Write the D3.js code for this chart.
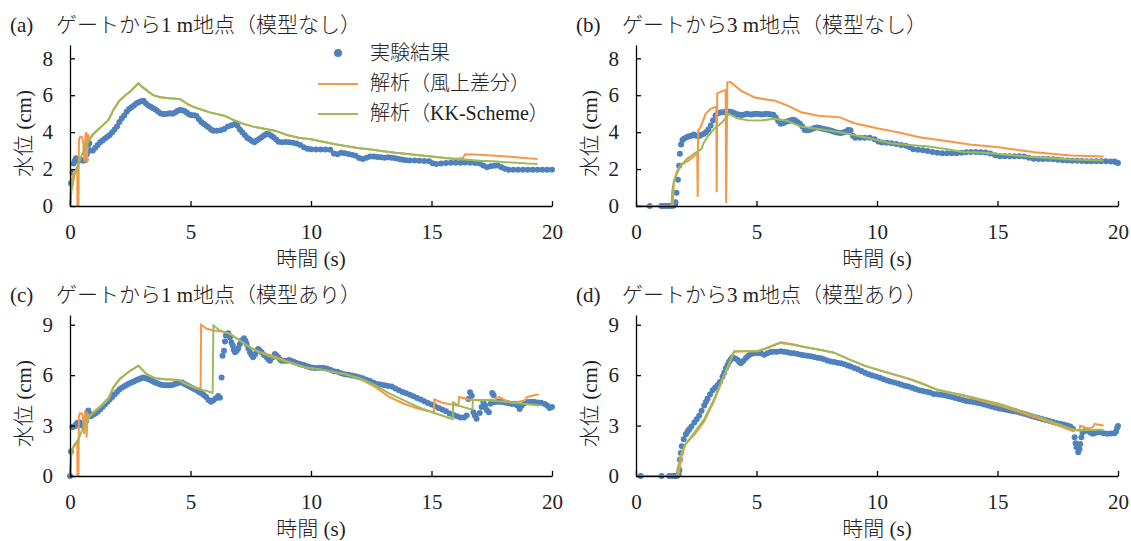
<!DOCTYPE html>
<html>
<head>
<meta charset="utf-8">
<script src="https://cdn.jsdelivr.net/npm/d3@7"></script>
<style>
  body { margin: 0; background: #fff; }
  text { font-family: "Liberation Serif", "Times New Roman", "Noto Sans CJK JP", serif; fill: #222; }
</style>
</head>
<body>
<div id="chart"></div>
<script>
// 目盛り
const xTicks = [0, 5, 10, 15, 20];
const yTicksAB = [0, 2, 4, 6, 8];
const yTicksCD = [0, 3, 6, 9];

const seriesNames = ['実験結果', '解析（風上差分）', '解析（KK-Scheme）'];
const titles = [
  ['(a)', 'ゲートから1 m地点（模型なし）'],
  ['(b)', 'ゲートから3 m地点（模型なし）'],
  ['(c)', 'ゲートから1 m地点（模型あり）'],
  ['(d)', 'ゲートから3 m地点（模型あり）']
];

// (a) 1 m, 模型なし  [時間 s, 水位 cm]
const expA = [[0.04,1.23],[0.1,1.8],[0.15,2.3],[0.2,2.45],[0.25,2.58],[0.35,2.45],[0.45,2.5],[0.55,2.45],[0.65,2.5],[0.7,2.8],[0.75,3.3],[0.8,3.4],[0.85,3.0],[0.95,3.0],[1.05,3.15],[1.15,3.3],[1.25,3.45],[1.35,3.55],[1.45,3.65],[1.55,3.75],[1.65,3.85],[1.75,4.0],[1.85,4.15],[1.95,4.3],[2.05,4.55],[2.15,4.75],[2.25,4.9],[2.35,5.1],[2.45,5.25],[2.55,5.35],[2.65,5.45],[2.75,5.55],[2.85,5.62],[2.95,5.68],[3.05,5.7],[3.15,5.55],[3.25,5.45],[3.35,5.38],[3.45,5.3],[3.55,5.22],[3.65,5.12],[3.75,5.02],[3.85,4.98],[3.95,4.98],[4.05,5.0],[4.15,5.02],[4.25,5.0],[4.35,5.05],[4.45,5.15],[4.55,5.2],[4.65,5.18],[4.75,5.15],[4.85,5.05],[4.95,4.95],[5.05,4.92],[5.15,4.92],[5.25,4.88],[5.35,4.7],[5.45,4.55],[5.55,4.45],[5.65,4.35],[5.75,4.26],[5.85,4.15],[5.95,4.08],[6.1,4.08],[6.25,4.1],[6.4,4.17],[6.55,4.3],[6.7,4.38],[6.85,4.44],[6.95,4.35],[7.05,4.15],[7.15,4.0],[7.25,3.85],[7.35,3.7],[7.45,3.62],[7.55,3.52],[7.65,3.45],[7.75,3.55],[7.85,3.63],[7.95,3.72],[8.05,3.82],[8.15,3.9],[8.25,3.88],[8.35,3.8],[8.45,3.72],[8.55,3.6],[8.65,3.48],[8.8,3.45],[8.95,3.46],[9.1,3.45],[9.25,3.42],[9.4,3.38],[9.55,3.3],[9.7,3.18],[9.85,3.1],[10.0,3.08],[10.2,3.06],[10.4,3.06],[10.6,3.06],[10.8,3.05],[10.95,2.85],[11.1,2.8],[11.25,2.88],[11.4,2.86],[11.55,2.82],[11.7,2.78],[11.85,2.72],[12.0,2.6],[12.15,2.55],[12.3,2.62],[12.45,2.68],[12.6,2.68],[12.75,2.66],[12.9,2.64],[13.05,2.62],[13.2,2.64],[13.35,2.62],[13.5,2.58],[13.65,2.54],[13.8,2.5],[13.95,2.48],[14.1,2.46],[14.3,2.46],[14.5,2.45],[14.7,2.44],[14.9,2.42],[15.05,2.32],[15.2,2.28],[15.4,2.3],[15.6,2.33],[15.8,2.34],[16.0,2.34],[16.2,2.34],[16.4,2.35],[16.6,2.34],[16.8,2.33],[17.0,2.3],[17.15,2.2],[17.3,2.1],[17.45,2.15],[17.6,2.18],[17.75,2.19],[17.9,2.1],[18.05,2.02],[18.2,1.97],[18.4,1.96],[18.6,1.96],[18.8,1.96],[19.0,1.96],[19.2,1.96],[19.4,1.96],[19.6,1.96],[19.8,1.96],[20.0,1.96]];
const upA = [[0,0],[0.05,1.3],[0.15,1.8],[0.3,2.1],[0.31,0],[0.35,0],[0.37,3.6],[0.42,3.75],[0.5,3.72],[0.55,3.4],[0.6,2.4],[0.64,3.8],[0.67,4.0],[0.7,2.35],[0.74,3.9],[0.78,3.5],[0.85,3.75],[1.0,3.95],[1.3,4.3],[1.6,4.66],[1.8,5.2],[2.05,5.7],[2.3,6.0],[2.5,6.2],[2.84,6.65],[3.0,6.45],[3.2,6.25],[3.45,6.0],[3.7,5.9],[4.0,5.85],[4.5,5.8],[4.6,5.76],[4.9,5.5],[5.2,5.33],[5.5,5.2],[5.8,5.07],[6.4,4.89],[6.8,4.65],[7.2,4.45],[7.6,4.3],[8.0,4.2],[8.5,4.08],[9.0,3.85],[9.5,3.7],[10.0,3.62],[10.5,3.48],[11.0,3.35],[11.5,3.24],[12.0,3.13],[12.5,3.06],[13.0,2.97],[13.5,2.88],[14.0,2.82],[14.5,2.75],[15.0,2.68],[15.5,2.62],[16.0,2.56],[16.3,2.6],[16.4,2.8],[17.0,2.78],[17.5,2.74],[18.0,2.7],[18.5,2.64],[19.0,2.58],[19.4,2.55]];
const kkA = [[0,0],[0.07,0.9],[0.2,1.75],[0.35,2.3],[0.5,2.8],[0.7,3.4],[1.0,3.93],[1.3,4.3],[1.6,4.66],[1.8,5.2],[2.05,5.7],[2.3,6.0],[2.5,6.2],[2.84,6.65],[3.0,6.45],[3.2,6.25],[3.45,6.0],[3.7,5.9],[4.0,5.85],[4.5,5.8],[4.6,5.76],[4.9,5.5],[5.2,5.33],[5.5,5.2],[5.8,5.07],[6.4,4.89],[6.8,4.65],[7.2,4.45],[7.6,4.3],[8.0,4.2],[8.5,4.08],[9.0,3.85],[9.5,3.7],[10.0,3.62],[10.5,3.48],[11.0,3.35],[11.5,3.24],[12.0,3.13],[12.5,3.06],[13.0,2.97],[13.5,2.88],[14.0,2.82],[14.5,2.75],[15.0,2.68],[15.5,2.6],[16.0,2.54],[16.5,2.5],[17.0,2.45],[17.5,2.42],[18.0,2.38],[18.5,2.34],[19.0,2.3],[19.4,2.28]];

// (b) 3 m, 模型なし
const expB = [[0.57,0],[1.05,0],[1.15,0],[1.25,0],[1.35,0],[1.45,0],[1.55,0.02],[1.62,0.1],[1.64,0.2],[1.68,0.72],[1.74,1.42],[1.79,2.18],[1.82,2.83],[1.87,3.33],[1.93,3.58],[2.0,3.65],[2.1,3.72],[2.2,3.78],[2.3,3.8],[2.4,3.87],[2.5,3.8],[2.6,3.78],[2.7,3.85],[2.8,3.9],[2.9,4.0],[3.0,4.15],[3.1,4.36],[3.2,4.65],[3.3,4.9],[3.4,5.02],[3.5,5.06],[3.6,5.08],[3.7,5.1],[3.8,5.12],[3.9,5.1],[4.0,5.08],[4.1,5.02],[4.2,4.97],[4.3,4.94],[4.4,4.93],[4.5,4.96],[4.6,4.99],[4.7,4.97],[4.8,4.96],[4.9,4.98],[5.0,5.0],[5.1,4.98],[5.2,4.96],[5.3,4.97],[5.4,4.99],[5.5,4.98],[5.6,4.96],[5.7,4.94],[5.8,4.8],[5.9,4.6],[6.0,4.45],[6.1,4.48],[6.2,4.55],[6.3,4.59],[6.4,4.63],[6.5,4.67],[6.6,4.65],[6.7,4.55],[6.8,4.45],[6.9,4.3],[7.0,4.12],[7.1,4.1],[7.2,4.12],[7.3,4.17],[7.4,4.22],[7.5,4.25],[7.6,4.24],[7.7,4.2],[7.8,4.17],[7.9,4.15],[8.0,4.12],[8.1,4.08],[8.2,4.03],[8.3,3.99],[8.4,3.97],[8.5,3.96],[8.6,3.98],[8.7,4.02],[8.8,4.12],[8.9,4.1],[9.0,3.8],[9.1,3.7],[9.3,3.69],[9.5,3.7],[9.7,3.69],[9.9,3.62],[10.05,3.5],[10.2,3.44],[10.4,3.42],[10.6,3.4],[10.8,3.36],[11.0,3.3],[11.2,3.26],[11.35,3.2],[11.5,3.08],[11.7,3.05],[11.9,3.02],[12.1,2.98],[12.3,2.93],[12.5,2.88],[12.7,2.86],[12.9,2.86],[13.1,2.86],[13.3,2.86],[13.5,2.88],[13.7,2.91],[13.9,2.92],[14.1,2.92],[14.3,2.91],[14.5,2.9],[14.7,2.85],[14.9,2.75],[15.1,2.7],[15.3,2.7],[15.5,2.7],[15.7,2.7],[15.9,2.7],[16.1,2.68],[16.3,2.62],[16.5,2.56],[16.7,2.55],[16.9,2.54],[17.1,2.54],[17.3,2.53],[17.5,2.5],[17.7,2.48],[17.9,2.46],[18.1,2.45],[18.3,2.45],[18.5,2.44],[18.7,2.43],[18.9,2.43],[19.1,2.42],[19.3,2.42],[19.5,2.42],[19.7,2.41],[19.85,2.41],[19.95,2.36],[20.0,2.33]];
const upB = [[0,0],[1.53,0],[1.57,1.3],[1.7,1.9],[1.85,2.2],[2.19,2.47],[2.54,2.83],[2.56,0.5],[2.58,4.1],[2.68,4.27],[2.89,4.99],[3.1,5.26],[3.33,5.39],[3.35,0.75],[3.37,6.1],[3.58,6.22],[3.72,6.29],[3.74,0.15],[3.79,6.7],[3.93,6.7],[4.35,6.25],[4.9,5.89],[5.46,5.75],[5.74,5.71],[6.29,5.44],[6.85,5.08],[7.57,4.89],[8.46,4.8],[9.06,4.48],[10.0,4.21],[10.86,3.99],[11.76,3.72],[12.8,3.54],[13.86,3.33],[15.06,3.18],[16.55,2.91],[18.05,2.73],[19.4,2.68]];
const kkB = [[0,0],[1.47,0],[1.5,0.76],[1.57,1.3],[1.64,1.57],[1.85,2.2],[2.13,2.56],[2.4,2.83],[2.61,3.0],[2.72,3.1],[2.8,3.4],[2.96,3.73],[3.24,4.18],[3.58,4.54],[3.86,4.99],[4.05,4.85],[4.2,4.75],[4.63,4.65],[5.18,4.63],[5.74,4.72],[6.29,4.6],[6.85,4.3],[7.57,4.17],[8.46,3.99],[9.5,3.72],[10.56,3.4],[11.3,3.3],[12.06,3.24],[12.8,3.1],[13.56,2.93],[14.3,2.9],[15.06,2.82],[16.55,2.64],[18.05,2.52],[19.4,2.46]];

// (c) 1 m, 模型あり
const expC = [[0,0],[0.04,1.46],[0.1,2.92],[0.15,2.95],[0.2,2.96],[0.25,3.05],[0.3,3.16],[0.35,3.18],[0.4,3.2],[0.45,3.05],[0.5,3.0],[0.55,3.1],[0.6,3.16],[0.66,3.26],[0.72,3.66],[0.76,3.9],[0.8,3.7],[0.85,3.56],[0.9,3.6],[0.97,3.66],[1.05,3.72],[1.15,3.82],[1.25,3.95],[1.35,4.1],[1.45,4.25],[1.55,4.4],[1.65,4.55],[1.75,4.7],[1.85,4.85],[1.95,5.0],[2.05,5.14],[2.15,5.25],[2.25,5.34],[2.35,5.42],[2.45,5.5],[2.55,5.56],[2.65,5.62],[2.75,5.7],[2.85,5.76],[2.95,5.82],[3.05,5.86],[3.15,5.82],[3.25,5.76],[3.35,5.7],[3.45,5.62],[3.55,5.55],[3.65,5.5],[3.75,5.45],[3.85,5.42],[3.95,5.4],[4.05,5.4],[4.15,5.4],[4.25,5.42],[4.35,5.48],[4.45,5.52],[4.55,5.56],[4.65,5.56],[4.75,5.48],[4.85,5.4],[4.95,5.32],[5.05,5.25],[5.15,5.18],[5.25,5.1],[5.35,5.0],[5.45,4.92],[5.55,4.82],[5.65,4.7],[5.75,4.52],[5.85,4.42],[5.95,4.5],[6.05,4.62],[6.15,4.76],[6.22,4.66],[6.29,5.86],[6.33,7.16],[6.39,7.46],[6.43,8.0],[6.47,8.36],[6.52,8.45],[6.57,8.5],[6.64,8.26],[6.7,7.95],[6.75,7.76],[6.8,7.5],[6.85,7.36],[6.92,7.45],[6.98,7.6],[7.05,7.85],[7.12,8.06],[7.22,8.2],[7.28,8.05],[7.33,7.86],[7.4,7.6],[7.47,7.36],[7.53,7.2],[7.6,7.06],[7.68,7.25],[7.75,7.45],[7.81,7.56],[7.88,7.46],[7.95,7.36],[8.05,7.2],[8.16,7.06],[8.23,6.95],[8.3,6.86],[8.4,7.05],[8.5,7.26],[8.57,7.15],[8.64,7.06],[8.71,6.95],[8.78,6.86],[8.9,6.86],[9.0,6.86],[9.1,6.9],[9.2,6.85],[9.3,6.78],[9.4,6.72],[9.5,6.68],[9.6,6.64],[9.7,6.6],[9.8,6.55],[9.9,6.5],[10.0,6.46],[10.1,6.44],[10.2,6.42],[10.35,6.44],[10.5,6.44],[10.65,6.4],[10.8,6.32],[10.95,6.24],[11.1,6.2],[11.25,6.12],[11.4,6.06],[11.55,6.02],[11.7,5.98],[11.85,5.94],[12.0,5.88],[12.15,5.82],[12.3,5.72],[12.45,5.65],[12.6,5.55],[12.75,5.48],[12.9,5.44],[13.05,5.4],[13.2,5.36],[13.35,5.32],[13.5,5.2],[13.65,5.1],[13.8,5.0],[13.95,4.92],[14.1,4.84],[14.25,4.74],[14.4,4.64],[14.55,4.55],[14.7,4.45],[14.85,4.35],[15.0,4.25],[15.15,4.15],[15.3,4.05],[15.45,3.95],[15.6,3.85],[15.75,3.72],[15.9,3.64],[16.05,3.55],[16.2,3.48],[16.35,3.48],[16.46,3.6],[16.53,4.58],[16.6,4.98],[16.67,4.78],[16.74,3.8],[16.8,3.6],[16.87,3.41],[17.0,3.75],[17.08,4.1],[17.15,4.4],[17.22,4.2],[17.29,3.93],[17.38,3.8],[17.45,4.3],[17.52,4.94],[17.58,4.8],[17.63,4.4],[17.77,4.42],[17.9,4.4],[18.04,4.38],[18.18,4.33],[18.32,4.28],[18.45,4.3],[18.55,4.2],[18.66,3.98],[18.75,4.2],[18.87,4.34],[19.0,4.4],[19.15,4.42],[19.28,4.4],[19.42,4.38],[19.55,4.36],[19.7,4.28],[19.8,4.2],[19.9,4.05],[20.0,4.1]];
const upC = [[0,0],[0.05,1.3],[0.15,1.8],[0.3,2.1],[0.31,0],[0.35,0],[0.37,3.6],[0.42,3.75],[0.5,3.7],[0.55,3.3],[0.58,2.5],[0.62,3.9],[0.66,3.3],[0.69,2.3],[0.73,3.7],[0.8,3.55],[0.97,3.8],[1.38,4.3],[1.59,4.6],[1.8,5.3],[2.07,5.8],[2.49,6.25],[2.84,6.56],[3.18,6.06],[3.53,5.82],[3.94,5.76],[4.5,5.72],[4.84,5.46],[5.2,5.25],[5.42,5.2],[5.44,9.0],[5.67,8.76],[5.95,8.66],[6.22,8.62],[6.64,8.46],[7.05,8.06],[7.47,7.66],[7.88,7.36],[8.31,7.2],[9.06,6.8],[9.81,6.45],[10.56,6.3],[11.46,6.04],[12.06,5.75],[12.66,5.3],[13.26,4.7],[13.86,4.3],[14.46,4.0],[15.1,3.78],[15.12,4.56],[15.43,4.36],[16.05,4.2],[16.12,4.2],[16.14,4.7],[16.55,4.55],[17.0,4.5],[17.63,4.55],[17.8,4.7],[18.05,4.5],[18.35,4.35],[18.87,4.5],[18.95,4.68],[19.29,4.82],[19.45,4.85]];
const kkC = [[0,0],[0.07,1.56],[0.28,1.96],[0.48,2.66],[0.69,3.36],[0.97,3.76],[1.38,4.26],[1.59,4.56],[1.8,5.26],[2.07,5.76],[2.49,6.26],[2.84,6.56],[3.18,6.06],[3.53,5.82],[3.94,5.76],[4.5,5.72],[4.84,5.46],[5.26,5.2],[5.67,5.06],[5.92,4.95],[5.95,8.96],[6.22,8.66],[6.64,8.46],[7.05,8.06],[7.47,7.66],[7.88,7.36],[8.31,7.1],[9.06,6.75],[9.81,6.45],[10.56,6.3],[11.46,6.04],[12.06,5.8],[12.66,5.4],[13.26,4.9],[13.86,4.5],[14.46,4.1],[15.06,3.78],[15.8,3.42],[15.88,3.38],[15.9,4.38],[16.1,4.2],[16.55,4.0],[16.7,3.98],[16.72,4.54],[17.3,4.5],[18.05,4.42],[18.8,4.3],[19.48,4.2]];

// (d) 3 m, 模型あり
const expD = [[0.2,0],[1.06,0],[1.38,0],[1.52,0],[1.6,0],[1.66,0],[1.72,0.02],[1.77,0.1],[1.8,0.36],[1.82,0.97],[1.86,1.37],[1.9,1.77],[1.98,2.18],[2.07,2.48],[2.14,2.65],[2.21,2.78],[2.3,2.95],[2.42,3.19],[2.52,3.38],[2.62,3.59],[2.72,3.88],[2.83,4.19],[2.9,4.4],[2.97,4.6],[3.07,4.85],[3.18,5.1],[3.28,5.25],[3.38,5.4],[3.48,5.6],[3.59,5.91],[3.66,6.15],[3.73,6.41],[3.8,6.6],[3.87,6.81],[3.94,6.95],[4.0,7.06],[4.1,7.0],[4.21,6.92],[4.28,6.8],[4.35,6.71],[4.45,6.85],[4.56,7.02],[4.66,7.15],[4.77,7.26],[4.9,7.3],[5.04,7.32],[5.18,7.3],[5.32,7.22],[5.45,7.3],[5.59,7.38],[5.72,7.4],[5.86,7.4],[6.0,7.42],[6.14,7.4],[6.28,7.36],[6.42,7.32],[6.56,7.3],[6.7,7.26],[6.84,7.22],[6.98,7.18],[7.11,7.15],[7.25,7.12],[7.39,7.08],[7.53,7.04],[7.67,7.0],[7.8,6.94],[7.94,6.88],[8.08,6.81],[8.22,6.78],[8.36,6.74],[8.5,6.71],[8.64,6.65],[8.78,6.58],[8.91,6.51],[9.06,6.43],[9.2,6.35],[9.35,6.25],[9.5,6.15],[9.65,6.05],[9.8,5.98],[9.96,5.92],[10.12,5.85],[10.28,5.75],[10.42,5.68],[10.56,5.62],[10.72,5.56],[10.88,5.5],[11.02,5.43],[11.16,5.37],[11.31,5.32],[11.46,5.25],[11.6,5.18],[11.75,5.1],[11.9,5.06],[12.06,5.02],[12.2,4.97],[12.35,4.88],[12.5,4.86],[12.65,4.84],[12.8,4.8],[12.95,4.75],[13.1,4.7],[13.25,4.64],[13.4,4.58],[13.56,4.52],[13.7,4.47],[13.85,4.43],[14.0,4.4],[14.15,4.36],[14.3,4.32],[14.45,4.26],[14.6,4.2],[14.75,4.14],[14.9,4.08],[15.06,4.02],[15.2,3.98],[15.35,3.94],[15.5,3.9],[15.65,3.86],[15.8,3.82],[15.95,3.76],[16.1,3.7],[16.25,3.64],[16.4,3.57],[16.55,3.51],[16.7,3.45],[16.85,3.39],[17.0,3.33],[17.15,3.27],[17.3,3.21],[17.45,3.16],[17.6,3.11],[17.75,3.06],[17.9,3.01],[18.02,2.95],[18.13,2.81],[18.2,2.31],[18.24,1.95],[18.28,1.71],[18.35,1.41],[18.4,1.6],[18.43,1.91],[18.48,2.3],[18.53,2.61],[18.63,2.68],[18.73,2.71],[18.84,2.6],[18.95,2.51],[19.05,2.56],[19.15,2.6],[19.25,2.61],[19.4,2.55],[19.55,2.51],[19.7,2.53],[19.85,2.55],[19.92,2.65],[19.96,2.85],[20.0,2.97]];
const upD = [[0,0],[1.76,0],[1.8,0.4],[1.9,1.2],[2.05,1.9],[2.42,2.45],[2.83,3.25],[3.25,4.5],[3.66,5.95],[4.07,7.4],[4.49,7.42],[5.04,7.42],[5.46,7.65],[6.0,7.95],[6.56,7.82],[7.11,7.64],[7.67,7.5],[8.22,7.34],[8.77,6.98],[9.5,6.55],[10.4,6.18],[11.3,5.8],[11.76,5.58],[12.5,5.12],[13.56,4.78],[15.06,4.2],[16.55,3.5],[18.05,2.72],[18.4,2.72],[18.43,3.0],[18.6,2.9],[18.73,2.8],[18.95,2.9],[19.03,3.1],[19.2,3.05],[19.4,3.0]];
const kkD = [[0,0],[1.7,0],[1.75,0.56],[1.86,1.27],[2.0,1.77],[2.42,2.58],[2.83,3.39],[3.25,4.6],[3.66,6.01],[4.07,7.42],[4.49,7.42],[5.04,7.42],[5.46,7.62],[6.0,7.92],[6.56,7.8],[7.11,7.64],[7.67,7.5],[8.22,7.34],[8.77,6.98],[9.5,6.55],[10.4,6.15],[11.3,5.78],[11.76,5.55],[12.5,5.14],[13.56,4.82],[15.06,4.3],[16.55,3.61],[18.05,2.81],[18.35,2.71],[19.1,2.75],[19.4,2.75]];

// 色
const colors = { exp: '#4f81bd', up: '#f79646', kk: '#9bbb59' };

const width = 1131;
const height = 541;
const latin = '"Liberation Serif", "Times New Roman", serif';
const cjk = '"Noto Sans CJK JP", sans-serif';

const svg = d3.select('#chart')
    .append('svg')
    .attr('width', width)
    .attr('height', height);

// 和文と欧文を分けて tspan にする
function mixedText(sel, str) {
    const parts = str.match(/[\u3000-\u9fff\uff00-\uffef]+|[^\u3000-\u9fff\uff00-\uffef]+/g);
    parts.forEach(s => {
        const isCjk = /[\u3000-\u9fff\uff00-\uffef]/.test(s);
        sel.append('tspan')
            .style('font-family', isCjk ? cjk : latin)
            .style('font-weight', isCjk ? 300 : 400)
            .text(s);
    });
    return sel;
}

// パネル配置
const panels = [
    { t: titles[0], dx: 0,   dy: 0,   yMax: 8.72, yTicks: yTicksAB, exp: expA, up: upA, kk: kkA, legend: true },
    { t: titles[1], dx: 566, dy: 0,   yMax: 8.72, yTicks: yTicksAB, exp: expB, up: upB, kk: kkB },
    { t: titles[2], dx: 0,   dy: 270, yMax: 9.58, yTicks: yTicksCD, exp: expC, up: upC, kk: kkC },
    { t: titles[3], dx: 566, dy: 270, yMax: 9.58, yTicks: yTicksCD, exp: expD, up: upD, kk: kkD }
];

const plotLeft = 70, plotRight = 552, plotBottom = 206, plotTop = 45;

panels.forEach(p => {
    const g = svg.append('g').attr('transform', `translate(${p.dx},${p.dy})`);

    const x = d3.scaleLinear().domain([0, 20]).range([plotLeft, plotRight]);
    const y = d3.scaleLinear().domain([0, p.yMax]).range([plotBottom, plotTop]);

    // タイトル
    g.append('text').attr('x', 10).attr('y', 32).style('font-size', '21px')
        .style('font-family', latin).text(p.t[0]);
    mixedText(g.append('text').attr('x', 56).attr('y', 32).style('font-size', '21px'), p.t[1]);

    // 実験結果（点）
    g.append('g').selectAll('circle')
        .data(p.exp)
        .enter()
        .append('circle')
        .attr('cx', d => x(d[0]))
        .attr('cy', d => y(d[1]))
        .attr('r', 3)
        .style('fill', colors.exp);

    // 解析線
    const line = d3.line().x(d => x(d[0])).y(d => y(d[1]));
    g.append('path').datum(p.up).attr('d', line)
        .style('fill', 'none').style('stroke', colors.up).style('stroke-width', 2);
    g.append('path').datum(p.kk).attr('d', line)
        .style('fill', 'none').style('stroke', colors.kk).style('stroke-width', 2);

    // 軸
    const xAxis = d3.axisBottom(x).tickValues(xTicks).tickSizeInner(-5).tickSizeOuter(0).tickPadding(14);
    const gx = g.append('g').attr('transform', `translate(0,${plotBottom})`).call(xAxis);
    const yAxis = d3.axisLeft(y).tickValues(p.yTicks).tickSizeInner(-5).tickSizeOuter(0).tickPadding(17);
    const gy = g.append('g').attr('transform', `translate(${plotLeft},0)`).call(yAxis);
    [gx, gy].forEach(a => {
        a.select('.domain').style('stroke', '#000').style('stroke-width', 1.3);
        a.selectAll('.tick line').style('stroke', '#000').style('stroke-width', 1.3);
        a.selectAll('.tick text').style('font-size', '21px').style('font-family', latin).style('fill', '#222');
    });
    gx.selectAll('.tick text').attr('dy', '0.9em');

    // 軸タイトル
    mixedText(g.append('text')
        .attr('x', (plotLeft + plotRight) / 2)
        .attr('y', 266)
        .attr('text-anchor', 'middle')
        .style('font-size', '21px'), '時間 (s)');
    mixedText(g.append('text')
        .attr('transform', `translate(31,${(plotTop + plotBottom) / 2 + 8}) rotate(-90)`)
        .attr('text-anchor', 'middle')
        .style('font-size', '21px'), '水位 (cm)');

    // 凡例
    if (p.legend) {
        const lg = g.append('g');
        lg.append('circle').attr('cx', 338).attr('cy', 53).attr('r', 4).style('fill', colors.exp);
        lg.append('line').attr('x1', 318).attr('x2', 358).attr('y1', 84).attr('y2', 84)
            .style('stroke', colors.up).style('stroke-width', 2);
        lg.append('line').attr('x1', 318).attr('x2', 358).attr('y1', 114).attr('y2', 114)
            .style('stroke', colors.kk).style('stroke-width', 2);
        seriesNames.forEach((name, i) => {
            mixedText(lg.append('text')
                .attr('x', 370)
                .attr('y', 60 + i * 30)
                .style('font-size', '20px'), name);
        });
    }
});
</script>
</body>
</html>
